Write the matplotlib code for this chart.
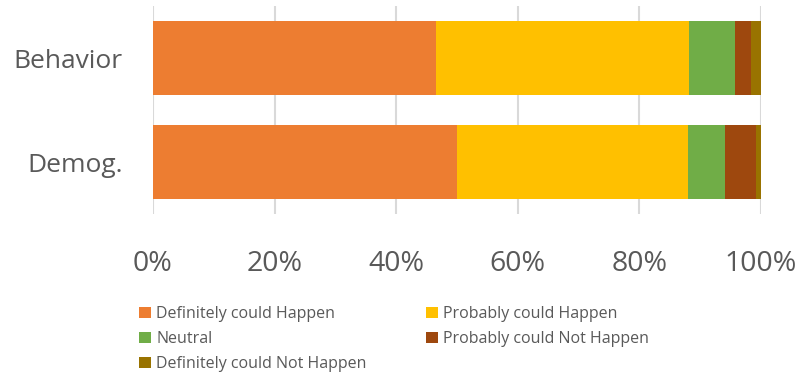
import matplotlib.pyplot as plt
import numpy as np

plt.rcParams['font.family'] = ['Open Sans', 'DejaVu Sans']

# data (percent of responses)
categories = ['Behavior', 'Demog.']
series = ['Definitely could Happen', 'Probably could Happen', 'Neutral',
          'Probably could Not Happen', 'Definitely could Not Happen']
def_happen = [46.6, 50.0]
prob_happen = [41.6, 38.0]
neutral = [7.5, 6.0]
prob_not = [2.7, 5.1]
def_not = [1.6, 0.9]
colors = ['#ED7D31', '#FFC000', '#70AD47', '#9E480E', '#997300']

values = [def_happen, prob_happen, neutral, prob_not, def_not]

fig = plt.figure(figsize=(8.02, 3.73), dpi=100)
ax = fig.add_axes([153 / 802, 159 / 373, 608 / 802, 208 / 373])

y = np.arange(len(categories))
left = np.zeros(len(categories))
handles = []
for name, vals, c in zip(series, values, colors):
    b = ax.barh(y, vals, left=left, height=0.71, color=c, label=name, zorder=3)
    handles.append(b)
    left += np.array(vals)

ax.set_xlim(0, 100)
ax.set_ylim(-0.5, 1.5)
ax.invert_yaxis()
ax.set_yticks(y)
ax.set_yticklabels(categories, fontsize=19, color='#595959')
ax.set_xticks(np.arange(0, 101, 20))
ax.set_xticklabels([f'{v}%' for v in range(0, 101, 20)], fontsize=20.5, color='#595959')
ax.tick_params(axis='x', length=0, pad=26)
ax.tick_params(axis='y', length=0, pad=22)
ax.grid(axis='x', color='#D9D9D9', linewidth=1.5, zorder=0)
for s in ax.spines.values():
    s.set_visible(False)

# legend is filled row by row in the original
order = [0, 2, 4, 1, 3]
fig.legend([handles[i] for i in order], [series[i] for i in order],
           loc='upper left', bbox_to_anchor=(133 / 802, 1 - 300 / 373),
           ncol=2, frameon=False, fontsize=11.5, labelcolor='#595959',
           handlelength=0.7, handleheight=0.7, handletextpad=0.35,
           labelspacing=0.55, columnspacing=3.75, borderaxespad=0)

fig.savefig('out.png', dpi=100)
